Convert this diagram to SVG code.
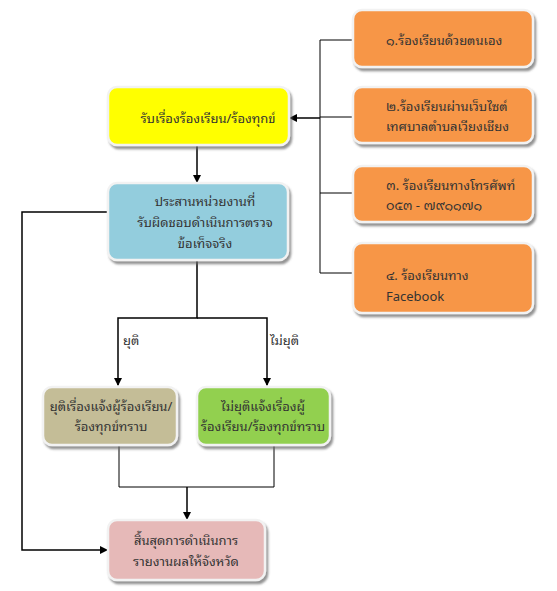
<svg xmlns="http://www.w3.org/2000/svg" width="557" height="591" viewBox="0 0 557 591">
<defs>
<marker id="ah" markerWidth="8" markerHeight="8" refX="7" refY="4" orient="auto" markerUnits="userSpaceOnUse">
<path d="M0,0 L8,4 L0,8 z" fill="#000"/>
</marker>
<filter id="sh" x="-10%" y="-10%" width="130%" height="140%">
<feDropShadow dx="2" dy="3" stdDeviation="1.2" flood-color="#666" flood-opacity="0.7"/>
</filter>
</defs>
<style>
.box{stroke:#f2f2f2;stroke-width:2.5;filter:url(#sh)}
.t{font-family:"Noto Sans Thai Looped","Loma","Garuda","Tahoma","Noto Sans Thai","DejaVu Sans","Noto Sans",sans-serif;font-size:13px;fill:#333;text-anchor:middle}
.tl{font-family:"Noto Sans Thai Looped","Loma","Garuda","Tahoma","Noto Sans Thai","DejaVu Sans","Noto Sans",sans-serif;font-size:13px;fill:#333;text-anchor:start}
.ln{stroke:#000;stroke-width:1.5;fill:none}
.lt{stroke:#000;stroke-width:1;fill:none}
</style>
<rect width="557" height="591" fill="#fff"/>
<g id="connectors">
<path class="lt" d="M353,40 H320 V273 H353 M320,117 H353 M320,193 H353"/>
<path class="ln" d="M320,118 H290" marker-end="url(#ah)"/>
<path class="ln" d="M197,145 V182" marker-end="url(#ah)"/>
<path class="ln" d="M108,212 H22 V550 H107" marker-end="url(#ah)"/>
<path class="ln" d="M197,260 V318 H118 V385" marker-end="url(#ah)"/>
<path class="ln" d="M197,318 H267 V385" marker-end="url(#ah)"/>
<path class="lt" d="M119,445 V487 H274 V445"/>
<path class="ln" d="M187,487 V519" marker-end="url(#ah)"/>
<text class="tl" x="123" y="345">ยุติ</text>
<text class="tl" x="270" y="345">ไม่ยุติ</text>
</g>
<g id="n-receive">
<rect class="box" x="108" y="87" width="181" height="58" rx="9" fill="#ffff00"/>
<text class="t" x="208" y="123">รับเรื่องร้องเรียน/ร้องทุกข์</text>
</g>
<g id="n-coord">
<rect class="box" x="108" y="183" width="180" height="77" rx="9" fill="#93cddd"/>
<text class="t" x="205" y="206">ประสานหน่วยงานที่</text>
<text class="t" x="205" y="227">รับผิดชอบดำเนินการตรวจ</text>
<text class="t" x="205" y="248">ข้อเท็จจริง</text>
</g>
<g id="n-1">
<rect class="box" x="353" y="10" width="180" height="57" rx="9" fill="#f79646"/>
<text class="tl" x="386" y="45">๑.ร้องเรียนด้วยตนเอง</text>
</g>
<g id="n-2">
<rect class="box" x="353" y="87" width="180" height="56" rx="9" fill="#f79646"/>
<text class="tl" x="386" y="111">๒.ร้องเรียนผ่านเว็บไซต์</text>
<text class="tl" x="386" y="131">เทศบาลตำบลเวียงเชียง</text>
</g>
<g id="n-3">
<rect class="box" x="353" y="166" width="180" height="56" rx="9" fill="#f79646"/>
<text class="tl" x="386" y="190">๓. ร้องเรียนทางโทรศัพท์</text>
<text class="tl" x="386" y="210">๐๕๓ - ๗๙๑๑๗๑</text>
</g>
<g id="n-4">
<rect class="box" x="353" y="243" width="180" height="70" rx="9" fill="#f79646"/>
<text class="tl" x="386" y="280">๔. ร้องเรียนทาง</text>
<text class="tl" x="386" y="301">Facebook</text>
</g>
<g id="n-stop">
<rect class="box" x="43" y="387" width="134" height="58" rx="9" fill="#c4bd97"/>
<text class="t" x="111" y="411">ยุติเรื่องแจ้งผู้ร้องเรียน/</text>
<text class="t" x="111" y="431">ร้องทุกข์ทราบ</text>
</g>
<g id="n-nostop">
<rect class="box" x="197" y="387" width="133" height="58" rx="9" fill="#92d050"/>
<text class="t" x="263" y="411">ไม่ยุติแจ้งเรื่องผู้</text>
<text class="t" x="263" y="431">ร้องเรียน/ร้องทุกข์ทราบ</text>
</g>
<g id="n-end">
<rect class="box" x="108" y="520" width="157" height="60" rx="9" fill="#e6b9b8"/>
<text class="t" x="186" y="545">สิ้นสุดการดำเนินการ</text>
<text class="t" x="186" y="566">รายงานผลให้จังหวัด</text>
</g>
</svg>
